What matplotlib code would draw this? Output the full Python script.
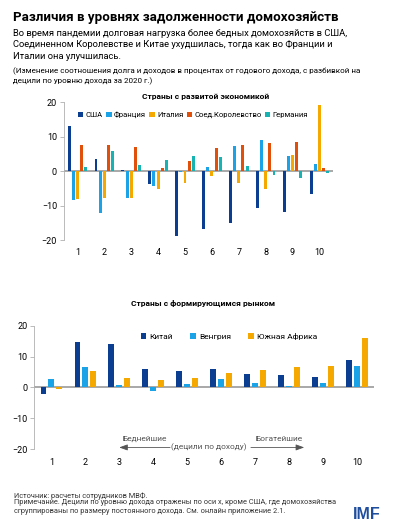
import numpy as np
import matplotlib
matplotlib.use('Agg')
import matplotlib.pyplot as plt

plt.rcParams['font.family'] = ['Roboto', 'DejaVu Sans']

# data
deciles = ['1', '2', '3', '4', '5', '6', '7', '8', '9', '10']

adv_names = ['США', 'Франция', 'Италия', 'Соед.Королевство', 'Германия']
usa = [13.0, 3.4, 0.4, -3.7, -18.7, -16.7, -15.0, -10.6, -11.9, -6.5]
france = [-8.4, -12.2, -7.7, -4.3, -0.3, 1.3, 7.4, 9.1, 4.3, 2.1]
italy = [-8.2, -7.7, -7.7, -5.2, -3.4, -1.3, -3.4, -5.1, 4.6, 19.2]
uk = [7.7, 7.7, 7.1, 0.8, 2.9, 6.7, 7.7, 8.2, 8.5, 0.9]
germany = [1.2, 5.8, 1.7, 3.1, 4.5, 4.1, 1.4, -1.1, -2.0, -0.7]

em_names = ['Китай', 'Венгрия', 'Южная Африка']
china = [-2.0, 14.6, 14.0, 6.0, 5.2, 6.1, 4.4, 4.1, 3.4, 8.9]
hungary = [2.8, 6.7, 0.8, -1.3, 1.1, 2.8, 1.3, 0.4, 1.4, 7.0]
s_africa = [-0.5, 5.2, 3.0, 2.3, 3.0, 4.7, 5.5, 6.7, 7.0, 16.0]

yticks = [-20, -10, 0, 10, 20]

NAVY = '#0b3d91'
SKY = '#1aa3e6'
GOLD = '#f5a800'
RED = '#e0500a'
TEAL = '#17b3b3'
GREY = '#9a9a9a'
TXT = '#555555'


def style_axis(ax):
    ax.set_xlim(-0.5, 9.5)
    ax.set_ylim(-20, 20)
    ax.set_yticks(yticks)
    ax.set_xticks(np.arange(10))
    ax.set_xticklabels(deciles)
    ax.tick_params(axis='x', length=0, labelsize=6.5, pad=6)
    ax.tick_params(axis='y', length=3, width=0.6, color='#b0b0b0', labelsize=6.5, pad=2)
    for s in ['top', 'right', 'bottom']:
        ax.spines[s].set_visible(False)
    ax.spines['left'].set_color('#b0b0b0')
    ax.spines['left'].set_linewidth(0.6)
    ax.axhline(0, color=GREY, lw=1.2, zorder=1)


fig = plt.figure(figsize=(3.96, 5.30), dpi=100)

# header text
fig.text(0.033, 0.967, 'Различия в уровнях задолженности домохозяйств',
         fontsize=9.6, fontweight='bold', va='center')
sub = ('Во время пандемии долговая нагрузка более бедных домохозяйств в США,\n'
       'Соединенном Королевстве и Китае ухудшилась, тогда как во Франции и\n'
       'Италии она улучшилась.')
fig.text(0.033, 0.946, sub, fontsize=6.75, va='top', linespacing=1.4)
note = ('(Изменение соотношения долга и доходов в процентах от годового дохода, с разбивкой на\n'
        'децили по уровню дохода за 2020 г.)')
fig.text(0.033, 0.872, note, fontsize=5.75, va='top', linespacing=1.25)

# advanced economies
ax1 = fig.add_axes([0.1616, 0.547, 0.679, 0.2604])
style_axis(ax1)
x = np.arange(10)
w = 0.11
pitch = 0.155
series = [usa, france, italy, uk, germany]
colors = [NAVY, SKY, GOLD, RED, TEAL]
for i, (vals, c, name) in enumerate(zip(series, colors, adv_names)):
    ax1.bar(x + (i - 2) * pitch, vals, width=w, color=c, label=name, zorder=2)
fig.text(0.52, 0.817, 'Страны с развитой экономикой', fontsize=6,
         fontweight='bold', ha='center', va='center')
ax1.legend(loc='upper center', bbox_to_anchor=(0.48, 0.955), ncol=5, frameon=False,
           fontsize=5.5, handlelength=0.7, handleheight=0.7, handletextpad=0.3,
           columnspacing=0.45, borderaxespad=0)

# emerging markets
ax2 = fig.add_axes([0.0866, 0.1523, 0.8574, 0.2332])
style_axis(ax2)
w2 = 0.17
pitch2 = 0.23
for i, (vals, c, name) in enumerate(zip([china, hungary, s_africa], [NAVY, SKY, GOLD], em_names)):
    ax2.bar(x + (i - 1) * pitch2, vals, width=w2, color=c, label=name, zorder=2)
fig.text(0.513, 0.428, 'Страны с формирующимся рынком', fontsize=6,
         fontweight='bold', ha='center', va='center')
ax2.legend(loc='upper center', bbox_to_anchor=(0.573, 0.97), ncol=3, frameon=False,
           fontsize=6, handlelength=0.7, handleheight=0.7, handletextpad=0.4,
           columnspacing=2.0, borderaxespad=0)

ax2.text(2.74, -16.6, 'Беднейшие', fontsize=6, color=TXT, ha='center', va='center')
ax2.text(6.7, -16.6, 'Богатейшие', fontsize=6, color=TXT, ha='center', va='center')
ax2.text(4.64, -19.4, '(децили по доходу)', fontsize=6, color=TXT, ha='center', va='center')
arrow = dict(arrowstyle='-|>,head_length=0.5,head_width=0.18', color=TXT, lw=0.6,
             shrinkA=0, shrinkB=0)
ax2.annotate('', xy=(2.0, -19.4), xytext=(3.5, -19.4), arrowprops=arrow)
ax2.annotate('', xy=(7.45, -19.4), xytext=(5.88, -19.4), arrowprops=arrow)

# footer
fig.text(0.035, 0.063, 'Источник: расчеты сотрудников МВФ.', fontsize=5.3, va='center',
         color='#333333')
fig.text(0.035, 0.043,
         'Примечание. Децили по уровню дохода отражены по оси x, кроме США, где домохозяйства\n'
         'сгруппированы по размеру постоянного дохода. См. онлайн приложение 2.1.',
         fontsize=5.3, va='center', color='#333333', linespacing=1.3)
fig.text(0.926, 0.030, 'IMF', fontsize=11.5, fontweight='bold', color='#1f4e9e',
         ha='center', va='center', family=['Liberation Sans', 'DejaVu Sans'])

fig.savefig('out.png', dpi=100)
